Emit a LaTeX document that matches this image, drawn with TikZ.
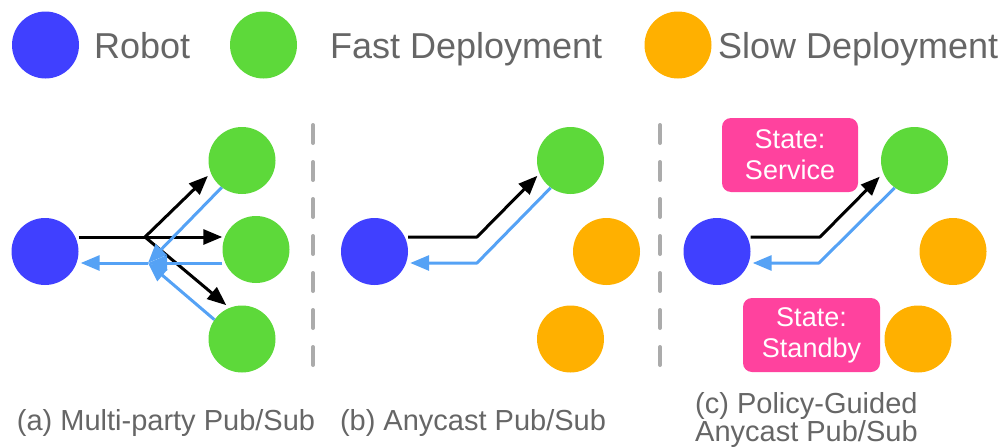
\documentclass[tikz,border=0pt]{standalone}
\usepackage{fontspec}
\setmainfont{Liberation Sans}
\usetikzlibrary{arrows.meta}
\definecolor{robotblue}{HTML}{4040FF}
\definecolor{fastgreen}{HTML}{5DD93A}
\definecolor{sloworange}{HTML}{FFB000}
\definecolor{statepink}{HTML}{FF429E}
\definecolor{replyblue}{HTML}{55A2F5}
\definecolor{labelgray}{HTML}{666666}
\definecolor{sepgray}{HTML}{ABABAB}
\begin{document}
\begin{tikzpicture}[x=1pt,y=-1pt,
  dot/.style={circle,minimum size=67pt,inner sep=0pt,draw=none},
  robot/.style={dot,fill=robotblue},
  fast/.style={dot,fill=fastgreen},
  slow/.style={dot,fill=sloworange},
  publine/.style={line width=3pt,black,line join=round},
  subline/.style={line width=3pt,replyblue,line join=round},
  headed/.style={-{Triangle[length=19pt,width=15pt]}},
  legendtext/.style={anchor=base west,text=labelgray,font=\fontsize{36}{43}\selectfont,inner sep=0pt},
  captext/.style={text=labelgray,font=\fontsize{29}{29}\selectfont,inner sep=0pt},
  statebox/.style={fill=statepink,rounded corners=9pt,text=white,align=center,
    font=\fontsize{27}{31}\selectfont,minimum width=136pt,minimum height=74pt,inner sep=0pt},
  separator/.style={sepgray,line width=4pt,line cap=round,dash pattern=on 18pt off 19pt}]
\useasboundingbox (0,0) rectangle (1006,447);

% legend
\node[robot] (lr) at (45.5,45) {};
\node[legendtext] (lrt) at (94,58) {Robot};
\node[fast] (lf) at (263.5,45) {};
\node[legendtext] (lft) at (330,58) {Fast Deployment};
\node[slow] (ls) at (678,45) {};
\node[legendtext] (lst) at (718,58) {Slow Deployment};

% separators
\coordinate (s1a) at (313,125);
\coordinate (s1b) at (313,370);
\coordinate (s2a) at (660,125);
\coordinate (s2b) at (660,370);
\draw[separator] (s1a) -- (s1b);
\draw[separator] (s2a) -- (s2b);

% (a) multi-party pub/sub
\node[robot] (ra) at (45,251.5) {};
\node[fast] (ga1) at (242,160.5) {};
\node[fast] (ga2) at (256,249.5) {};
\node[fast] (ga3) at (242,339) {};
\coordinate (ja) at (145,237);
\coordinate (jar) at (148,263);
\draw[publine] (ra.east |- ja) -- (ja);
\draw[publine,headed,shorten >=4pt] (ja) -- (ga1.202);
\draw[publine,headed] (ja) -- (ga2.west |- ja);
\draw[publine,headed,shorten >=4pt] (ja) -- (ga3.112);
\draw[subline,headed] (ga1.233) -- (jar);
\draw[subline,headed] (ga2.west |- jar) -- (jar);
\draw[subline,headed] (ga3.145) -- (jar);
\draw[subline,headed,shorten >=2pt] (jar) -- (ra.east |- jar);

% (b) anycast pub/sub
\node[robot] (rb) at (374.5,251.5) {};
\node[fast] (gb) at (570.5,160.5) {};
\node[slow] (ob1) at (606.5,251.5) {};
\node[slow] (ob2) at (570.5,339) {};
\coordinate (jb) at (477,237);
\coordinate (jbr) at (477,263);
\draw[publine,headed,shorten >=3pt] (rb.east |- jb) -- (jb) -- (gb.203);
\draw[subline,headed,shorten >=2pt] (gb.234) -- (jbr) -- (rb.east |- jbr);

% (c) policy-guided anycast pub/sub
\node[robot] (rc) at (717,251.5) {};
\node[fast] (gc) at (914.5,160.5) {};
\node[slow] (oc1) at (953,251.5) {};
\node[slow] (oc2) at (918,339) {};
\coordinate (jc) at (820,237);
\coordinate (jcr) at (819,263);
\draw[publine,headed,shorten >=5pt] (rc.east |- jc) -- (jc) -- (gc.202);
\draw[subline,headed,shorten >=2pt] (gc.234) -- (jcr) -- (rc.east |- jcr);
\node[statebox] (service) at (790,155) {State:\\Service};
\node[statebox,minimum width=137pt] (standby) at (811.5,335) {State:\\Standby};

% captions
\node[captext,anchor=base] (capa) at (166,430) {(a) Multi-party Pub/Sub};
\node[captext,anchor=base] (capb) at (473,430) {(b) Anycast Pub/Sub};
\node[captext,anchor=base west] (capc1) at (695,413) {(c) Policy-Guided};
\node[captext,anchor=base west] (capc2) at (695,441) {Anycast Pub/Sub};
\end{tikzpicture}
\end{document}
